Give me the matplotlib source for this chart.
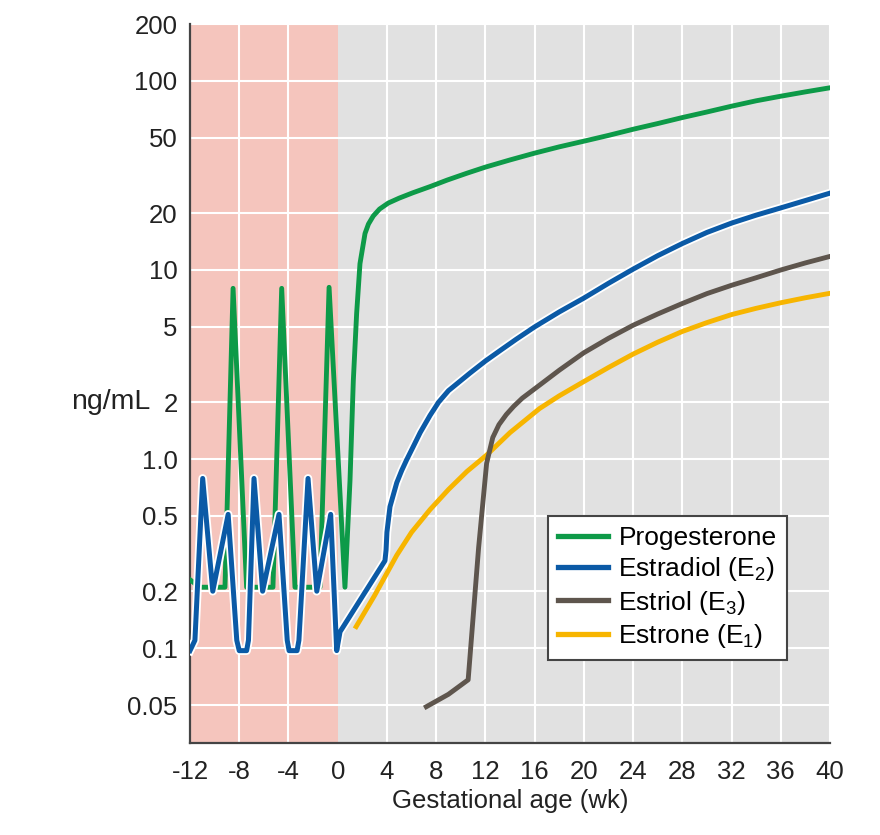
import matplotlib
matplotlib.use("Agg")
import matplotlib.pyplot as plt
import matplotlib.patheffects as pe
from matplotlib.transforms import blended_transform_factory

plt.rcParams['font.family'] = ['Liberation Sans', 'DejaVu Sans']
plt.rcParams['mathtext.fontset'] = 'custom'
plt.rcParams['mathtext.rm'] = 'Liberation Sans'
plt.rcParams['mathtext.it'] = 'Liberation Sans'

# values (weeks, ng/mL)
prog_wk = [-12, -11.2, -9.16, -8.5, -7.4, -5.26, -4.55, -3.47, -1.44, -0.7, 0.59,
           1.0, 1.27, 1.54, 1.81, 2.22, 2.5, 2.89, 3.4, 4.11, 5, 6.1, 7.5, 8.9, 10.5, 12, 14,
           16, 18, 20, 22, 24, 26, 28, 30, 32, 34, 36, 38, 40]
prog_val = [0.23, 0.21, 0.21, 8.0, 0.21, 0.21, 8.0, 0.21, 0.21, 8.1, 0.21,
            0.77, 2.6, 5.9, 10.8, 15.6, 17.5, 19.3, 21, 22.6, 24, 25.6, 27.6, 29.9, 32.5, 35, 38.2,
            41.5, 44.8, 48, 51.5, 55.5, 59.5, 64, 68.5, 73.5, 78.5, 83, 87.5, 92]

e2_wk = [-12, -11.6, -10.97, -10.15, -8.9, -8.2, -8.0, -7.4, -7.25, -6.8, -6.1, -4.77, -4.1, -3.95,
         -3.3, -3.15, -2.41, -1.7, -0.57, -0.08, 0.19, 3.84, 3.93, 4.0, 4.25, 4.8, 5.2, 5.6, 6.1,
         6.7, 7.5, 8.2, 9, 10, 10.75, 12, 13.2, 14.5, 16, 18, 20, 22, 24, 26, 28, 30, 32, 34, 36,
         38, 40]
e2_val = [0.097, 0.11, 0.79, 0.2, 0.51, 0.11, 0.097, 0.097, 0.11, 0.79, 0.2, 0.51, 0.11, 0.097,
          0.097, 0.11, 0.79, 0.2, 0.51, 0.097, 0.122, 0.29, 0.33, 0.41, 0.56, 0.75, 0.87, 0.99, 1.15,
          1.38, 1.7, 2.0, 2.3, 2.6, 2.85, 3.3, 3.75, 4.3, 5.0, 6.0, 7.1, 8.5, 10.1, 11.9, 13.8, 15.8,
          17.7, 19.5, 21.3, 23.3, 25.5]

e3_wk = [7.2, 9, 10.6, 11.45, 12.1, 12.6, 13.1, 13.7, 14.3, 15, 16.4, 18, 20, 22, 24, 26, 28,
         30, 32, 34, 36, 38, 40]
e3_val = [0.049, 0.057, 0.068, 0.34, 0.95, 1.3, 1.52, 1.72, 1.9, 2.1, 2.46, 2.95, 3.65, 4.35, 5.1,
          5.85, 6.65, 7.5, 8.3, 9.1, 10, 10.9, 11.8]

e1_wk = [1.5, 3, 4.8, 6, 7.5, 9, 10.5, 12.1, 14, 16.4, 18, 20, 22, 24, 26, 28, 30, 32, 34, 36, 38, 40]
e1_val = [0.13, 0.19, 0.31, 0.41, 0.54, 0.69, 0.86, 1.05, 1.38, 1.85, 2.16, 2.57, 3.05, 3.59, 4.15,
          4.73, 5.27, 5.81, 6.27, 6.71, 7.13, 7.53]

x_ticks = [-12, -8, -4, 0, 4, 8, 12, 16, 20, 24, 28, 32, 36, 40]
y_ticks = [200, 100, 50, 20, 10, 5, 2, 1, 0.5, 0.2, 0.1, 0.05]
y_labels = ['200', '100', '50', '20', '10', '5', '2', '1.0', '0.5', '0.2', '0.1', '0.05']

fig = plt.figure(figsize=(8.8, 8.35), dpi=100)
ax = fig.add_axes([190/880, 92/835, 640/880, 719/835])
ax.set_facecolor('#e1e1e1')
ax.set_yscale('log')
ax.set_xlim(-12, 40)
ax.set_ylim(0.0315, 200)

ax.axvspan(-12, 0, color='#f5c5bd', zorder=0.2, lw=0)
for xv in x_ticks:
    if xv != 0:
        ax.axvline(xv, color='white', lw=1.5, zorder=0.5)
for yv in y_ticks:
    ax.axhline(yv, color='white', lw=1.5, zorder=0.5)

ax.plot(prog_wk, prog_val, color='#0d9a48', lw=3.5, label='Progesterone', zorder=3,
        solid_joinstyle='round')
ax.plot(e2_wk, e2_val, color='#0b5aa6', lw=3.6, label='Estradiol (E$_2$)', zorder=4,
        solid_joinstyle='round',
        path_effects=[pe.Stroke(linewidth=6.2, foreground='white'), pe.Normal()])
ax.plot(e3_wk, e3_val, color='#5e554d', lw=3.5, label='Estriol (E$_3$)', zorder=3,
        solid_joinstyle='round')
ax.plot(e1_wk, e1_val, color='#f7b500', lw=3.5, label='Estrone (E$_1$)', zorder=2,
        solid_joinstyle='round')

ax.set_xticks(x_ticks)
ax.set_xticklabels([str(v) for v in x_ticks])
ax.set_yticks(y_ticks)
ax.set_yticklabels(y_labels)
ax.minorticks_off()
ax.tick_params(length=0, labelsize=18.5, labelcolor='#222222')
ax.tick_params(axis='x', pad=12)
ax.tick_params(axis='y', pad=9)

for s in ['top', 'right']:
    ax.spines[s].set_visible(False)
for s in ['left', 'bottom']:
    ax.spines[s].set_color('#444444')
    ax.spines[s].set_linewidth(1.6)

ax.set_xlabel('Gestational age (wk)', fontsize=18.5, color='#222222', labelpad=4)
trans = blended_transform_factory(ax.transAxes, ax.transData)
ax.text(-0.0625, 2, 'ng/mL', transform=trans, ha='right', va='center', fontsize=20.5,
        color='#222222')

leg = ax.legend(loc='upper left', bbox_to_anchor=(0.559, 0.3157), fontsize=19,
                borderaxespad=0, fancybox=False, framealpha=1, edgecolor='#444444',
                handlelength=1.9, handletextpad=0.4, borderpad=0.38, labelspacing=0.2)
leg.get_frame().set_linewidth(1.5)
for line in leg.get_lines():
    line.set_path_effects([])
    line.set_linewidth(3.8)

fig.savefig('out.png', dpi=100)
